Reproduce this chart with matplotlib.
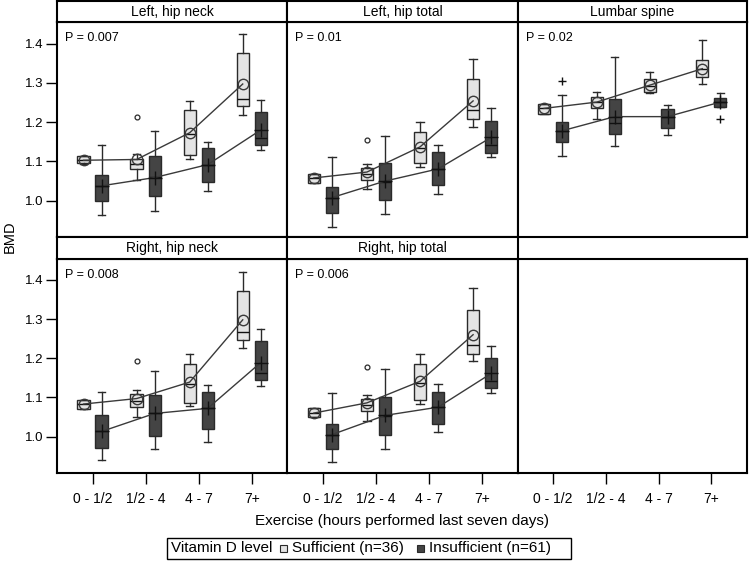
import matplotlib
matplotlib.use("Agg")
import matplotlib.pyplot as plt
from matplotlib import font_manager as fm
from matplotlib.patches import Rectangle

# ---------------- data ----------------
categories = ["0 - 1/2", "1/2 - 4", "4 - 7", "7+"]
panel_titles = ["Left, hip neck", "Left, hip total", "Lumbar spine",
                "Right, hip neck", "Right, hip total"]
p_labels = ["P = 0.007", "P = 0.01", "P = 0.02", "P = 0.008", "P = 0.006"]
y_ticks = [1.0, 1.1, 1.2, 1.3, 1.4]
legend_title = "Vitamin D level"
group_labels = ["Sufficient (n=36)", "Insufficient (n=61)"]

# Sufficient group: one row per panel, one value per exercise category
suf_low = [[1.093, 1.053, 1.107, 1.218], [1.046, 1.029, 1.086, 1.188],
           [1.221, 1.209, 1.273, 1.296], [1.071, 1.049, 1.077, 1.226],
           [1.049, 1.039, 1.084, 1.192]]
suf_q1 = [[1.095, 1.080, 1.116, 1.241], [1.046, 1.054, 1.095, 1.207],
          [1.221, 1.237, 1.277, 1.314], [1.071, 1.076, 1.086, 1.247],
          [1.049, 1.065, 1.093, 1.211]]
suf_med = [[1.104, 1.093, 1.170, 1.258], [1.058, 1.069, 1.133, 1.231],
           [1.235, 1.251, 1.292, 1.336], [1.083, 1.090, 1.133, 1.266],
           [1.060, 1.080, 1.136, 1.233]]
suf_q3 = [[1.113, 1.107, 1.231, 1.376], [1.069, 1.084, 1.175, 1.311],
          [1.247, 1.264, 1.310, 1.358], [1.094, 1.109, 1.186, 1.371],
          [1.073, 1.096, 1.186, 1.324]]
suf_high = [[1.114, 1.119, 1.253, 1.425], [1.069, 1.093, 1.200, 1.360],
            [1.247, 1.277, 1.327, 1.410], [1.094, 1.118, 1.211, 1.420],
            [1.073, 1.106, 1.211, 1.378]]
suf_mean = [[1.103, 1.105, 1.173, 1.297], [1.058, 1.073, 1.137, 1.254],
            [1.235, 1.251, 1.294, 1.336], [1.083, 1.097, 1.139, 1.298],
            [1.060, 1.086, 1.141, 1.260]]
suf_out = [[[], [1.214], [], []], [[], [1.154], [], []],
           [[], [], [], []], [[], [1.194], [], []],
           [[], [1.177], [], []]]

# Insufficient group
ins_low = [[0.965, 0.975, 1.024, 1.129], [0.934, 0.966, 1.018, 1.111],
           [1.114, 1.139, 1.167, 1.239], [0.939, 0.967, 0.986, 1.129],
           [0.934, 0.969, 1.012, 1.111]]
ins_q1 = [[0.999, 1.011, 1.048, 1.141], [0.968, 1.002, 1.039, 1.122],
          [1.150, 1.169, 1.186, 1.239], [0.971, 1.002, 1.020, 1.144],
          [0.968, 1.005, 1.032, 1.123]]
ins_med = [[1.038, 1.061, 1.092, 1.160], [1.008, 1.048, 1.081, 1.141],
           [1.178, 1.199, 1.214, 1.251], [1.013, 1.060, 1.072, 1.162],
           [1.005, 1.052, 1.075, 1.143]]
ins_q3 = [[1.065, 1.114, 1.133, 1.225], [1.034, 1.097, 1.123, 1.203],
          [1.201, 1.258, 1.234, 1.262], [1.055, 1.107, 1.115, 1.244],
          [1.031, 1.101, 1.114, 1.201]]
ins_high = [[1.141, 1.178, 1.150, 1.256], [1.112, 1.165, 1.141, 1.237],
            [1.269, 1.366, 1.243, 1.273], [1.115, 1.168, 1.132, 1.274],
            [1.111, 1.173, 1.133, 1.232]]
ins_mean = [[1.038, 1.059, 1.092, 1.180], [1.008, 1.050, 1.081, 1.161],
            [1.178, 1.214, 1.214, 1.251], [1.013, 1.059, 1.072, 1.189],
            [1.005, 1.054, 1.075, 1.161]]
ins_out = [[[], [], [], []], [[], [], [], []],
           [[1.305], [], [], [1.209]], [[], [], [], []],
           [[], [], [], []]]

# ---------------- style ----------------
names = {f.name for f in fm.fontManager.ttflist}
REG = "Liberation Sans" if "Liberation Sans" in names else "DejaVu Sans"
NARROW = "Liberation Sans Narrow" if "Liberation Sans Narrow" in names else REG
plt.rcParams["font.family"] = [REG, "DejaVu Sans"]

LIGHT = "#e4e4e4"
DARK = "#444444"
EDGE = "#2a2a2a"
LINE = "#3a3a3a"
FRAME_LW = 1.5

W, H = 750, 561
fig = plt.figure(figsize=(W / 100, H / 100), dpi=100)

col_x = [57, 287.3, 517.7, 746.7]
hdr = [(1.0, 22.3), (237.3, 258.7)]
plot_y = [(22.3, 237.3), (258.7, 473.0)]


def rect(x0, x1, y0, y1):
    return [x0 / W, 1 - y1 / H, (x1 - x0) / W, (y1 - y0) / H]


def stats(low, q1, med, q3, high, fl):
    return dict(whislo=low, q1=q1, med=med, q3=q3, whishi=high, fliers=fl)


cats = list(range(1, len(categories) + 1))
OFF = 0.17
BW = 0.23

for cell in range(6):
    r, c = divmod(cell, 3)
    ax = fig.add_axes(rect(col_x[c], col_x[c + 1], *plot_y[r]))
    ax.set_xlim(0.33, 4.67)
    ax.set_ylim(0.907, 1.454)
    for s in ax.spines.values():
        s.set_linewidth(FRAME_LW)
        s.set_color("black")
    ax.set_xticks(cats)
    ax.set_yticks(y_ticks)
    if r == 1:
        ax.set_xticklabels(categories, family=[NARROW, REG], fontsize=10)
        ax.tick_params(axis="x", direction="out", length=8, width=1.0, pad=6)
    else:
        ax.tick_params(axis="x", bottom=False, labelbottom=False)
    if c == 0:
        ax.set_yticklabels([f"{v:.1f}" for v in y_ticks], fontsize=9.5)
        ax.tick_params(axis="y", direction="out", length=8, width=1.0, pad=2)
    else:
        ax.tick_params(axis="y", left=False, labelleft=False)

    if cell >= 5:
        continue
    i = cell

    # header strip
    axh = fig.add_axes(rect(col_x[c], col_x[c + 1], *hdr[r]))
    axh.set_xticks([])
    axh.set_yticks([])
    for s in axh.spines.values():
        s.set_linewidth(FRAME_LW)
    axh.text(0.5, 0.5, panel_titles[i], ha="center", va="center",
             fontsize=10, transform=axh.transAxes)

    ax.text(0.035, 0.925, p_labels[i], transform=ax.transAxes,
            ha="left", va="center", fontsize=9)

    groups = [
        (-OFF, LIGHT, suf_low, suf_q1, suf_med, suf_q3, suf_high, suf_mean, suf_out,
         dict(marker="o", markersize=3.5, markerfacecolor="none",
              markeredgecolor=EDGE, markeredgewidth=0.9),
         dict(marker="o", ms=7.5, mfc="none", mec=LINE, mew=1.0)),
        (OFF, DARK, ins_low, ins_q1, ins_med, ins_q3, ins_high, ins_mean, ins_out,
         dict(marker="+", markersize=6, markeredgecolor="#111111",
              markeredgewidth=1.0),
         dict(marker="+", ms=10, mec="#111111", mew=1.0)),
    ]
    for off, fill, lo, q1, md, q3, hi, mn, outl, fprops, mprops in groups:
        st = [stats(lo[i][k], q1[i][k], md[i][k], q3[i][k], hi[i][k], outl[i][k])
              for k in range(len(categories))]
        pos = [x + off for x in cats]
        ax.bxp(st, positions=pos, widths=BW, patch_artist=True,
               showfliers=True, manage_ticks=False,
               boxprops=dict(facecolor=fill, edgecolor=EDGE, linewidth=1.0),
               medianprops=dict(color="#111111", linewidth=1.0),
               whiskerprops=dict(color=EDGE, linewidth=1.0),
               capprops=dict(color=EDGE, linewidth=1.0),
               capwidths=BW * 0.6,
               flierprops=fprops)
        ax.plot(pos, mn[i], color=LINE, lw=1.0, zorder=4, **mprops)

# axis titles
fig.text(10 / W, 1 - 237 / H, "BMD", rotation=90, ha="center", va="center",
         fontsize=10.5)
fig.text(401.8 / W, 1 - 521 / H, "Exercise (hours performed last seven days)",
         ha="center", va="center", fontsize=11, family=[NARROW, REG])

# legend (drawn manually)
fig.patches.append(Rectangle((166.5 / W, 1 - 558.5 / H), (571 - 166.5) / W,
                             (558.5 - 537.5) / H, transform=fig.transFigure,
                             facecolor="white", edgecolor="black", lw=1.0))
ly = 1 - 548 / H
fig.text(171 / W, ly, legend_title, ha="left", va="center", fontsize=11,
         family=[NARROW, REG])
for x0, fill, lab in [(280, LIGHT, group_labels[0]), (417, DARK, group_labels[1])]:
    fig.patches.append(Rectangle((x0 / W, 1 - 552 / H), 7 / W, 7 / H,
                                 transform=fig.transFigure, facecolor=fill,
                                 edgecolor=EDGE, lw=0.8))
    fig.text((x0 + 12) / W, ly, lab, ha="left", va="center", fontsize=11,
             family=[NARROW, REG])

fig.savefig("out.png", dpi=100)
